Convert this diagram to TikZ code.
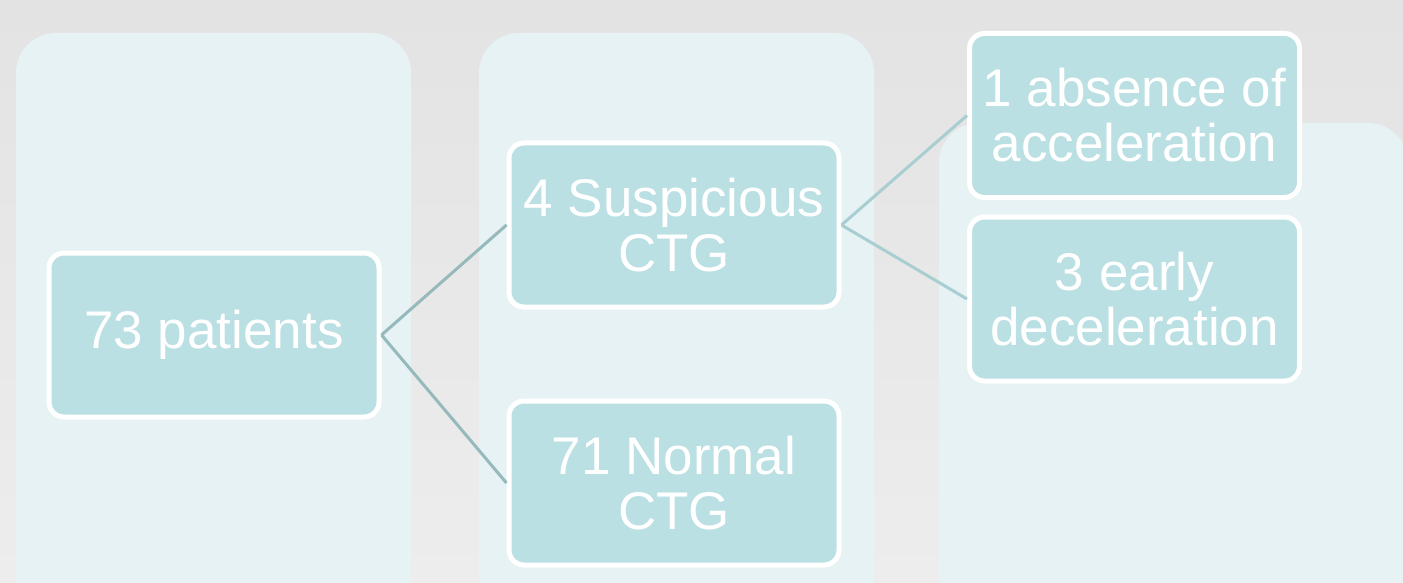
\documentclass[tikz,border=0pt]{standalone}
\usepackage{fontspec}
\setmainfont{Liberation Sans}
\definecolor{bgtop}{RGB}{227,227,227}
\definecolor{bgbot}{RGB}{237,237,237}
\definecolor{panelcol}{RGB}{230,242,243}
\definecolor{nodefill}{RGB}{187,224,227}
\definecolor{linkA}{RGB}{150,185,187}
\definecolor{linkB}{RGB}{168,206,209}
\begin{document}
\begin{tikzpicture}[x=1pt,y=-1pt,
  box/.style={draw=white, line width=5pt, fill=nodefill, rounded corners=15pt,
    text=white, align=center, font=\fontsize{53}{55}\selectfont,
    minimum width=330pt, minimum height=164pt, inner sep=0pt},
  panel/.style={fill=panelcol, rounded corners=40pt},
  linkone/.style={draw=linkA, line width=3pt},
  linktwo/.style={draw=linkB, line width=3pt}]
\useasboundingbox (0,0) rectangle (1403,583);
\begin{scope}
\clip (0,0) rectangle (1403,583);
\shade[top color=bgtop, bottom color=bgbot] (0,0) rectangle (1403,583);
\fill[panel] (16,33) rectangle (411,640);
\fill[panel] (479,33) rectangle (874,640);
\fill[panel] (939,123) rectangle (1408,640);
\end{scope}
\node[box] (pat) at (214,335) {73 patients};
\node[box] (sus) at (674,225) {4 Suspicious\\CTG};
\node[box] (nor) at (674,483) {71 Normal\\CTG};
\node[box] (abs) at (1134.5,115.5) {1 absence of\\acceleration};
\node[box] (ear) at (1134.5,299) {3 early\\deceleration};
\draw[linkone] (pat.east) -- (sus.west);
\draw[linkone] (pat.east) -- (nor.west);
\draw[linktwo] (sus.east) -- (abs.west);
\draw[linktwo] (sus.east) -- (ear.west);
\end{tikzpicture}
\end{document}
